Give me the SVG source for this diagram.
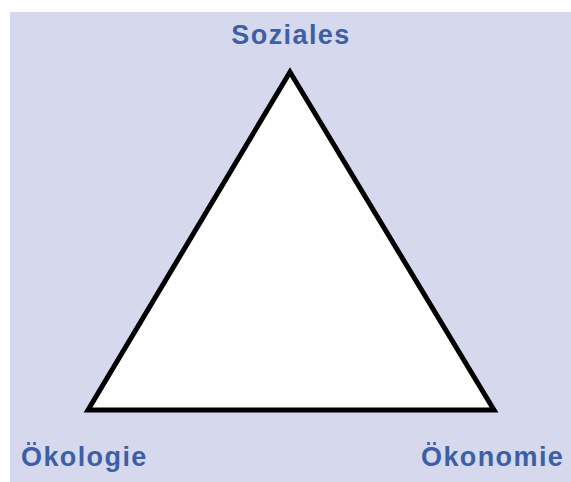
<svg xmlns="http://www.w3.org/2000/svg" width="571" height="482" viewBox="0 0 571 482">
<style>
.lbl{font-family:"Liberation Sans","Arial",sans-serif;font-weight:bold;font-size:27px;letter-spacing:1.4px;fill:#3d5fa6}
</style>
<rect x="0" y="0" width="571" height="482" fill="#ffffff"/>
<rect x="10" y="12" width="561" height="470" fill="#d6d9ee"/>
<g id="connectors">
<polygon points="290,72 88,410 494,410" fill="#ffffff" stroke="#000000" stroke-width="5" stroke-linejoin="miter"/>
</g>
<g id="soziales"><text class="lbl" x="291" y="44" text-anchor="middle">Soziales</text></g>
<g id="oekologie"><text class="lbl" x="21" y="466">Ökologie</text></g>
<g id="oekonomie"><text class="lbl" x="421" y="466">Ökonomie</text></g>
</svg>
